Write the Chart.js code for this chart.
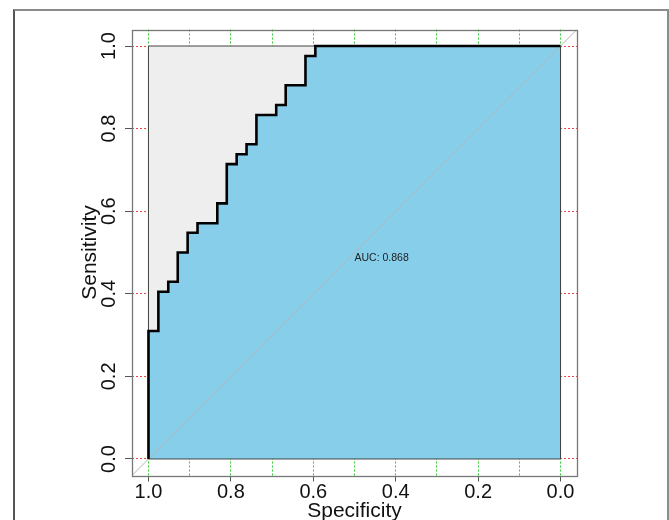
<!DOCTYPE html>
<html>
<head>
<meta charset="utf-8">
<script src="https://cdn.jsdelivr.net/npm/chart.js@4.4.1/dist/chart.umd.min.js"></script>
<style>
  html, body { margin: 0; padding: 0; background: #fff; overflow: hidden; }
  #wrap { position: relative; width: 669px; height: 520px; }
  #frame {
    position: absolute; left: 13px; top: 9px; width: 652px; height: 600px;
    border-top: 2px solid #8c8c8c; border-right: 2px solid #8c8c8c; border-left: 2px solid #555;
  }
  #rocChart { position: absolute; left: 0; top: 0; }
</style>
</head>
<body>
<div id="wrap">
  <div id="frame"></div>
  <canvas id="rocChart" width="669" height="520"></canvas>
</div>
<script>
// ROC curve corner points (specificity runs from 1 down to 0)
const specificity = [1.0, 1.0, 0.976, 0.976, 0.952, 0.952, 0.929, 0.929, 0.905, 0.905,
  0.881, 0.881, 0.833, 0.833, 0.810, 0.810, 0.786, 0.786, 0.762, 0.762,
  0.738, 0.738, 0.690, 0.690, 0.667, 0.667, 0.619, 0.619, 0.595, 0.595, 0.0];
const sensitivity = [0.0, 0.310, 0.310, 0.405, 0.405, 0.429, 0.429, 0.500, 0.500, 0.548,
  0.548, 0.571, 0.571, 0.619, 0.619, 0.714, 0.714, 0.738, 0.738, 0.762,
  0.762, 0.833, 0.833, 0.857, 0.857, 0.905, 0.905, 0.976, 0.976, 1.0, 1.0];
const aucValue = 0.868;

const xTicks = [1.0, 0.9, 0.8, 0.7, 0.6, 0.5, 0.4, 0.3, 0.2, 0.1, 0.0];
const yTicks = [0.0, 0.2, 0.4, 0.6, 0.8, 1.0];
const axisMin = -0.04, axisMax = 1.04;

const rocPoints = specificity.map((s, i) => ({ x: s, y: sensitivity[i] }));
const squareTop = [{ x: 1, y: 1 }, { x: 0, y: 1 }];
const squareOutline = [{ x: 1, y: 0 }, { x: 1, y: 1 }, { x: 0, y: 1 }, { x: 0, y: 0 }, { x: 1, y: 0 }];
const diagonal = [{ x: axisMax, y: axisMin }, { x: axisMin, y: axisMax }];

const FONT = "'Liberation Sans', Arial, sans-serif";
const isMajor = v => Math.round(v * 10) % 2 === 0;

const boxAndAuc = {
  id: "boxAndAuc",
  afterDraw(chart) {
    const { ctx, chartArea: a, scales } = chart;
    ctx.save();
    ctx.strokeStyle = "#777";
    ctx.lineWidth = 1.3;
    ctx.strokeRect(Math.round(a.left) + 0.5, Math.round(a.top) + 0.5,
      Math.round(a.right - a.left), Math.round(a.bottom - a.top));
    ctx.fillStyle = "#222";
    ctx.font = "10.5px " + FONT;
    ctx.textAlign = "left";
    ctx.textBaseline = "top";
    ctx.fillText("AUC: " + aucValue.toFixed(3), scales.x.getPixelForValue(0.5), scales.y.getPixelForValue(0.5));
    ctx.restore();
  }
};

new Chart(document.getElementById("rocChart").getContext("2d"), {
  type: "scatter",
  data: {
    datasets: [
      { data: squareTop, showLine: true, fill: "origin", backgroundColor: "#eeeeee",
        borderWidth: 0, pointRadius: 0, order: 5 },
      { data: rocPoints, showLine: true, fill: "origin", backgroundColor: "#87ceeb",
        borderWidth: 0, pointRadius: 0, order: 4 },
      { data: squareOutline, showLine: true, fill: false, borderColor: "#444",
        borderWidth: 1, pointRadius: 0, order: 3 },
      { data: diagonal, showLine: true, fill: false, borderColor: "#b4b4b4",
        borderWidth: 1, pointRadius: 0, order: 2 },
      { data: rocPoints, showLine: true, fill: false, borderColor: "#000",
        borderWidth: 2.6, pointRadius: 0, order: 1 }
    ]
  },
  options: {
    responsive: false,
    animation: false,
    layout: { padding: { top: 29.5, right: 92, bottom: 0, left: 0 } },
    plugins: { legend: { display: false }, tooltip: { enabled: false } },
    scales: {
      x: {
        type: "linear", reverse: true, min: axisMin, max: axisMax,
        afterBuildTicks: s => { s.ticks = xTicks.map(v => ({ value: v })); },
        afterFit: s => { s.height = 44.5; },
        grid: {
          color: "#33cc33", lineWidth: 1, tickLength: 6,
          tickColor: c => (c.tick && isMajor(c.tick.value)) ? "#555" : "rgba(0,0,0,0)"
        },
        border: { display: false, dash: [2, 2] },
        ticks: {
          autoSkip: false, maxRotation: 0, padding: -1, color: "#111",
          font: { family: FONT, size: 20 },
          callback: v => isMajor(v) ? v.toFixed(1) : ""
        },
        title: {
          display: true, text: "Specificity", color: "#111",
          font: { family: FONT, size: 21 }, padding: { top: 0, bottom: -3.5 }
        }
      },
      y: {
        type: "linear", min: axisMin, max: axisMax,
        afterBuildTicks: s => { s.ticks = yTicks.map(v => ({ value: v })); },
        afterFit: s => { s.width = 132; },
        grid: { color: "#ee4444", lineWidth: 1, tickLength: 7, tickColor: "#555" },
        border: { display: false, dash: [2, 2] },
        ticks: {
          minRotation: 90, maxRotation: 90, crossAlign: "center", padding: 2, color: "#111",
          font: { family: FONT, size: 20 },
          callback: v => v.toFixed(1)
        },
        title: {
          display: true, text: "Sensitivity", color: "#111",
          font: { family: FONT, size: 21 }, padding: { top: 78, bottom: 0 }
        }
      }
    }
  },
  plugins: [boxAndAuc]
});
</script>
</body>
</html>
